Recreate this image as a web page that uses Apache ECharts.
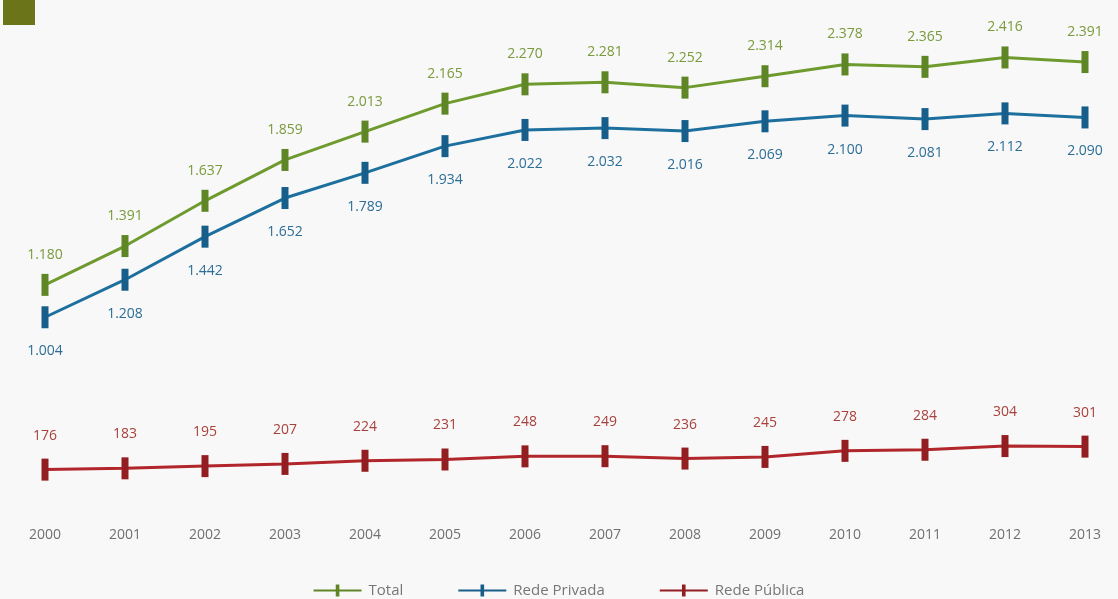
<!DOCTYPE html>
<html><head><meta charset="utf-8">
<script src="https://cdn.jsdelivr.net/npm/echarts@6/dist/echarts.min.js"></script>
<style>html,body{margin:0;padding:0;background:#f8f8f8}#c{width:1118px;height:599px}</style>
</head><body><div id="c"></div>
<script>
const years = ['2000','2001','2002','2003','2004','2005','2006','2007','2008','2009','2010','2011','2012','2013'];
const total = [1180,1391,1637,1859,2013,2165,2270,2281,2252,2314,2378,2365,2416,2391];
const privada = [1004,1208,1442,1652,1789,1934,2022,2032,2016,2069,2100,2081,2112,2090];
const publica = [176,183,195,207,224,231,248,249,236,245,278,284,304,301];

function fmt(v){ return String(v).replace(/\B(?=(\d{3})+(?!\d))/g,'.'); }
const icon = 'path://M0,4.2h40v1.6h-40z M18.5,0h3v10h-3z';
const font = 'Open Sans';
function mk(name, data, color, markColor, labelColor, pos, dist){
  return {
    name, type:'line', data, color,
    symbol:'rect', symbolSize:[7,22], showAllSymbol:true,
    lineStyle:{width:3,color}, itemStyle:{color:markColor},
    label:{show:true, position:pos, distance:dist, color:labelColor, fontSize:14, fontFamily:font,
      formatter:p=>fmt(p.value)},
    emphasis:{disabled:true}, animation:false
  };
}
const chart = echarts.init(document.getElementById('c'));
chart.setOption({
  backgroundColor:'#f8f8f8',
  animation:false,
  graphic:[{type:'rect', shape:{x:3,y:0,width:32,height:25}, style:{fill:'#6b7418'}}],
  grid:{left:45,right:33,top:42,bottom:97},
  xAxis:{type:'category', data:years, boundaryGap:false,
    axisLine:{show:false}, axisTick:{show:false},
    axisLabel:{margin:26, color:'#707070', fontSize:14, fontFamily:font}},
  yAxis:{type:'value', min:0, max:2500, show:false, splitLine:{show:false}},
  legend:{top:578, left:'center', itemWidth:52, itemHeight:12, itemGap:55,
    textStyle:{color:'#777', fontSize:15, fontFamily:font},
    data:[{name:'Total',icon},{name:'Rede Privada',icon},{name:'Rede Pública',icon}]},
  series:[
    mk('Total', total, '#6e9a2e', '#5e8526', '#7a9a3c', 'top', 12),
    mk('Rede Privada', privada, '#1d6f9e', '#175f8a', '#2c6e96', 'bottom', 16),
    mk('Rede Pública', publica, '#b0262a', '#931e22', '#a8413b', 'top', 16)
  ]
});
</script></body></html>
